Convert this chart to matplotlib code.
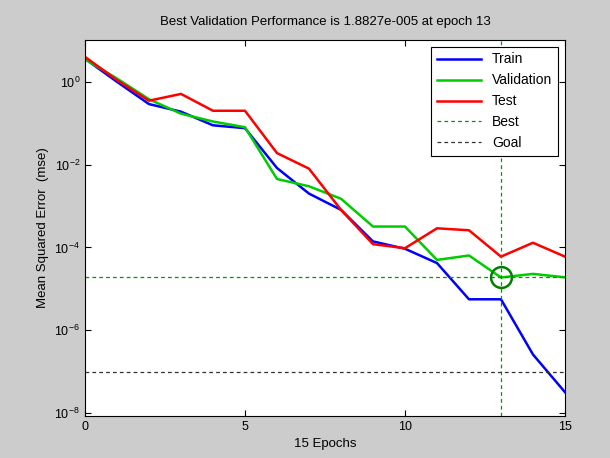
import matplotlib
matplotlib.use('Agg')
import matplotlib.pyplot as plt
import numpy as np

plt.rcParams['font.family'] = ['Liberation Sans', 'DejaVu Sans']

# training record, mse per epoch
epochs = np.arange(0, 16)
train = [3.6, 1.0, 0.29, 0.19, 0.089, 0.076, 0.0083, 0.002, 8.1e-4, 1.4e-4,
         9.3e-5, 4.2e-5, 5.6e-6, 5.6e-6, 2.6e-7, 3.2e-8]
valid = [3.5, 1.2, 0.38, 0.17, 0.11, 0.08, 0.0045, 0.003, 0.0015, 3.2e-4,
         3.2e-4, 5.0e-5, 6.4e-5, 1.8827e-5, 2.3e-5, 1.9e-5]
test = [4.0, 1.1, 0.35, 0.51, 0.2, 0.2, 0.019, 0.008, 8.1e-4, 1.2e-4,
        9.6e-5, 2.9e-4, 2.6e-4, 6.0e-5, 1.3e-4, 6.0e-5]
best_epoch = 13
best_perf = 1.8827e-5
goal = 1e-7

fig = plt.figure(figsize=(6.1, 4.58), dpi=100, facecolor='#cccccc')
ax = fig.add_axes([0.1393, 0.0917, 0.7869, 0.821])

ax.semilogy(epochs, train, color='b', lw=1.8, label='Train')
ax.semilogy(epochs, valid, color=(0, 0.8, 0), lw=1.8, label='Validation')
ax.semilogy(epochs, test, color='r', lw=1.8, label='Test')
ax.axhline(best_perf, color=(0, 0.6, 0), lw=0.9, ls=(0, (3, 2.5)), label='Best')
ax.axvline(best_epoch, color=(0, 0.6, 0), lw=0.9, ls=(0, (3, 2.5)))
ax.axhline(goal, color='#333333', lw=0.9, ls=(0, (3, 2.5)), label='Goal')
ax.plot(best_epoch, best_perf, 'o', ms=15, mfc='none', mec=(0, 0.5, 0), mew=1.8)

ax.set_xlim(0, 15)
ax.set_ylim(10**-8.07, 10**1.01)
ax.set_xticks([0, 5, 10, 15])
ax.set_yticks([1e0, 1e-2, 1e-4, 1e-6, 1e-8])
ax.minorticks_off()
ax.tick_params(direction='in', top=True, right=True, labelsize=9, length=4)

ax.set_title('Best Validation Performance is 1.8827e-005 at epoch 13', fontsize=9.5, pad=11)
ax.set_xlabel('15 Epochs', fontsize=9.5)
ax.set_ylabel('Mean Squared Error  (mse)', fontsize=9.5)

leg = ax.legend(loc='upper right', fontsize=10, fancybox=False, framealpha=1,
                edgecolor='k', handlelength=3.2, borderaxespad=0.5)
leg.get_frame().set_linewidth(0.8)

fig.savefig('out.png', dpi=100, facecolor=fig.get_facecolor())
